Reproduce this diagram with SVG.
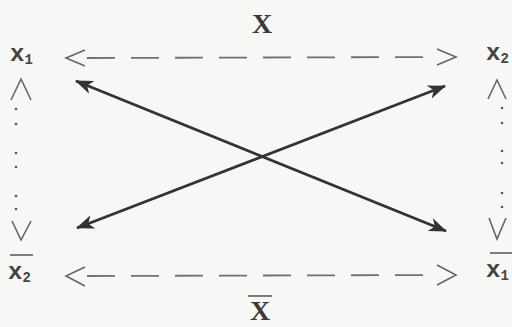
<svg xmlns="http://www.w3.org/2000/svg" width="512" height="327" viewBox="0 0 512 327">
<defs>
<style>
.lbl{font-family:"Liberation Mono","DejaVu Sans Mono",monospace;font-weight:bold;fill:#444;}
.big{font-family:"Liberation Serif","DejaVu Serif",serif;font-weight:bold;fill:#3a3a3a;}
.dash{stroke:#707070;stroke-width:1.8;fill:none;stroke-dasharray:28 16;}
.chev{stroke:#666;stroke-width:1.6;fill:none;}
.solid{stroke:#333;stroke-width:2.8;fill:none;}
.dot{fill:#555;}
.bar{stroke:#555;stroke-width:1.5;}
</style>
<marker id="ah" viewBox="0 0 18 14" refX="17" refY="7" markerWidth="18" markerHeight="14" markerUnits="userSpaceOnUse" orient="auto-start-reverse">
<path d="M0,0 L18,7 L0,14 L5,7 Z" fill="#333"/>
</marker>
</defs>
<rect width="512" height="327" fill="#f7f7f5"/>
<g id="topX"><text class="big" x="262" y="33" font-size="28" text-anchor="middle">X</text></g>
<g id="bottomX"><line class="bar" x1="248" y1="296" x2="272" y2="296"/><text class="big" x="260" y="320" font-size="28" text-anchor="middle">X</text></g>
<g id="x1"><text class="lbl" x="10" y="61" font-size="24">x<tspan font-size="14" dy="3">1</tspan></text></g>
<g id="x2"><text class="lbl" x="486" y="60" font-size="24">x<tspan font-size="14" dy="3">2</tspan></text></g>
<g id="x2bar"><line class="bar" x1="10" y1="255" x2="33" y2="255"/><text class="lbl" x="8" y="279" font-size="24">x<tspan font-size="14" dy="3">2</tspan></text></g>
<g id="x1bar"><line class="bar" x1="490" y1="253" x2="512" y2="253"/><text class="lbl" x="486" y="277" font-size="24">x<tspan font-size="14" dy="3">1</tspan></text></g>
<g id="connectors">
<line class="dash" x1="87" y1="58" x2="436" y2="57"/>
<path class="chev" d="M85,50 L66,58 L85,66"/>
<path class="chev" d="M437,49 L456,57 L437,65"/>
<line class="dash" x1="87" y1="276" x2="436" y2="275"/>
<path class="chev" d="M85,267 L66,276 L85,286"/>
<path class="chev" d="M437,265 L456,275 L437,285"/>
<path class="chev" d="M11,100 L21,79 L31,100"/>
<path class="chev" d="M12,221 L21,240 L31,221"/>
<path class="chev" d="M488,99 L497,80 L506,99"/>
<path class="chev" d="M489,218 L497,239 L506,218"/>
<g class="dot">
<circle cx="16" cy="109" r="1.3"/><circle cx="16" cy="124" r="1.3"/><circle cx="16" cy="153" r="1.3"/>
<circle cx="16" cy="167" r="1.3"/><circle cx="16" cy="196" r="1.3"/><circle cx="16" cy="209" r="1.3"/>
<circle cx="502" cy="108" r="1.3"/><circle cx="502" cy="123" r="1.3"/><circle cx="502" cy="151" r="1.3"/>
<circle cx="502" cy="163" r="1.3"/><circle cx="502" cy="193" r="1.3"/><circle cx="502" cy="207" r="1.3"/>
</g>
<line class="solid" x1="76" y1="81" x2="446" y2="231" marker-start="url(#ah)" marker-end="url(#ah)"/>
<line class="solid" x1="77" y1="228" x2="445" y2="86" marker-start="url(#ah)" marker-end="url(#ah)"/>
</g>
</svg>
